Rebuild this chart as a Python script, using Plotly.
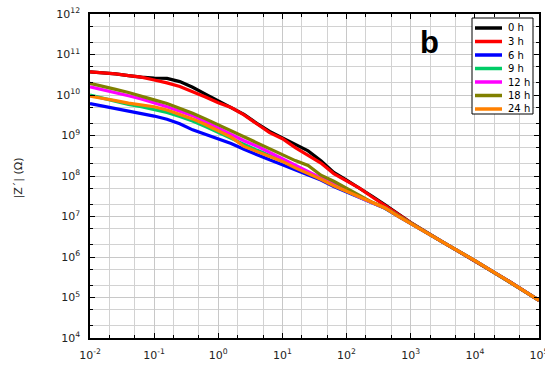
import plotly.graph_objects as go

# log10 of frequency (Hz)
log_freq = [-2.0, -1.8, -1.6, -1.4, -1.2, -1.0, -0.8, -0.6, -0.4, -0.2,
            0.0, 0.2, 0.4, 0.6, 0.8, 1.0, 1.2, 1.4, 1.6, 1.8,
            2.0, 2.2, 2.4, 2.6, 2.8, 3.0, 3.5, 4.0, 4.5, 5.0]
freq = [10 ** v for v in log_freq]

# log10 |Z| for each immersion time
z_0h = [10.57, 10.55, 10.52, 10.48, 10.44, 10.42, 10.41, 10.33, 10.19, 10.02,
        9.86, 9.69, 9.52, 9.30, 9.10, 8.94, 8.77, 8.62, 8.38, 8.09,
        7.90, 7.71, 7.50, 7.29, 7.06, 6.85, 6.37, 5.91, 5.43, 4.93]
z_3h = [10.57, 10.55, 10.52, 10.48, 10.44, 10.37, 10.30, 10.21, 10.09, 9.95,
        9.81, 9.69, 9.51, 9.29, 9.07, 8.92, 8.70, 8.51, 8.32, 8.06,
        7.88, 7.70, 7.48, 7.27, 7.05, 6.85, 6.37, 5.91, 5.43, 4.93]
z_6h = [9.79, 9.73, 9.67, 9.61, 9.55, 9.48, 9.40, 9.29, 9.14, 9.03,
        8.93, 8.80, 8.66, 8.52, 8.40, 8.28, 8.16, 8.03, 7.90, 7.74,
        7.60, 7.46, 7.33, 7.20, 7.01, 6.83, 6.37, 5.91, 5.43, 4.93]
z_9h = [10.00, 9.92, 9.84, 9.77, 9.71, 9.65, 9.57, 9.47, 9.36, 9.22,
        9.07, 8.93, 8.78, 8.64, 8.51, 8.37, 8.22, 8.09, 7.94, 7.77,
        7.62, 7.48, 7.34, 7.21, 7.02, 6.83, 6.37, 5.91, 5.43, 4.93]
z_12h = [10.20, 10.13, 10.05, 9.98, 9.90, 9.81, 9.71, 9.60, 9.49, 9.34,
         9.18, 9.01, 8.87, 8.74, 8.58, 8.42, 8.26, 8.12, 7.96, 7.78,
         7.63, 7.48, 7.34, 7.21, 7.02, 6.83, 6.37, 5.91, 5.43, 4.93]
z_18h = [10.29, 10.22, 10.14, 10.06, 9.98, 9.88, 9.79, 9.68, 9.55, 9.41,
         9.26, 9.11, 8.96, 8.82, 8.67, 8.52, 8.38, 8.26, 8.02, 7.87,
         7.70, 7.51, 7.35, 7.21, 7.02, 6.83, 6.37, 5.91, 5.43, 4.93]
z_24h = [9.97, 9.92, 9.86, 9.80, 9.76, 9.71, 9.63, 9.53, 9.41, 9.27,
         9.12, 8.96, 8.73, 8.60, 8.49, 8.36, 8.20, 8.07, 7.92, 7.76,
         7.62, 7.48, 7.35, 7.21, 7.01, 6.83, 6.37, 5.91, 5.43, 4.93]

series_names = ["0 h", "3 h", "6 h", "9 h", "12 h", "18 h", "24 h"]
series_values = [z_0h, z_3h, z_6h, z_9h, z_12h, z_18h, z_24h]
series_colors = ["#000000", "#FF0000", "#0000FF", "#00CC66", "#FF00FF", "#808000", "#FF8000"]

x_exponents = [-2, -1, 0, 1, 2, 3, 4, 5]
y_exponents = [4, 5, 6, 7, 8, 9, 10, 11, 12]

fig = go.Figure()
for name, vals, col in zip(series_names, series_values, series_colors):
    fig.add_trace(go.Scatter(
        x=freq, y=[10 ** v for v in vals], mode="lines", name=name,
        line=dict(color=col, width=3.2), showlegend=False))

axis_common = dict(
    type="log", showline=True, linecolor="black", linewidth=1.5, mirror="ticks",
    ticks="inside", ticklen=5, tickcolor="black", tickwidth=1,
    showgrid=True, gridcolor="#c8c8c8", gridwidth=1,
    minor=dict(showgrid=True, gridcolor="#d2d2d2", ticks="inside", ticklen=3,
               tickcolor="black"),
    zeroline=False, automargin=False, ticklabeloverflow="allow",
    tickfont=dict(family="DejaVu Sans", size=11, color="#222222"),
)

fig.update_xaxes(range=[-2, 5],
                 tickvals=[10 ** e for e in x_exponents],
                 ticktext=["10<sup>%d</sup>" % e for e in x_exponents],
                 ticklabelstandoff=6,
                 **axis_common)
fig.update_yaxes(range=[4, 12],
                 tickvals=[10 ** e for e in y_exponents],
                 ticktext=["10<sup>%d</sup>" % e for e in y_exponents],
                 ticklabelstandoff=6,
                 **axis_common)

fig_w, fig_h = 545, 367
plot_l, plot_r, plot_t, plot_b = 90, 539, 14, 338

def px_x(px):
    return (px - plot_l) / (plot_r - plot_l)
def px_y(py):
    return (plot_b - py) / (plot_b - plot_t)

# Y-axis title
fig.add_annotation(x=px_x(9), y=px_y(178), xref="paper", yref="paper",
                   text="|Z\u00b4| (\u03a9)", textangle=-90, showarrow=False,
                   font=dict(family="DejaVu Sans", size=11, color="#222222"))

# Panel letter
fig.add_annotation(x=px_x(429), y=px_y(42), xref="paper", yref="paper", text="<b>b</b>",
                   showarrow=False, font=dict(family="Liberation Sans", size=31, color="black"),
                   xanchor="center", yanchor="middle")

# Custom compact legend (box, line samples, labels)
fig.add_shape(type="rect", xref="paper", yref="paper",
              x0=px_x(472), x1=px_x(533), y0=px_y(114), y1=px_y(18),
              line=dict(color="black", width=1), fillcolor="white", layer="above")
for i, (name, col) in enumerate(zip(series_names, series_colors)):
    yc = 28 + i * 13.5
    fig.add_shape(type="line", xref="paper", yref="paper",
                  x0=px_x(475), x1=px_x(502), y0=px_y(yc), y1=px_y(yc),
                  line=dict(color=col, width=3.5), layer="above")
    fig.add_annotation(x=px_x(506), y=px_y(yc), xref="paper", yref="paper",
                       text=name, showarrow=False, xanchor="left", yanchor="middle",
                       font=dict(family="DejaVu Sans", size=10, color="black"))

fig.update_layout(
    width=fig_w, height=fig_h,
    margin=dict(l=plot_l, r=fig_w - plot_r, t=plot_t, b=fig_h - plot_b),
    plot_bgcolor="white", paper_bgcolor="white",
    showlegend=False,
)

fig.write_html("out.html", config={"displayModeBar": False},
               post_script="document.body.style.margin='0px';document.body.style.overflow='hidden';")
